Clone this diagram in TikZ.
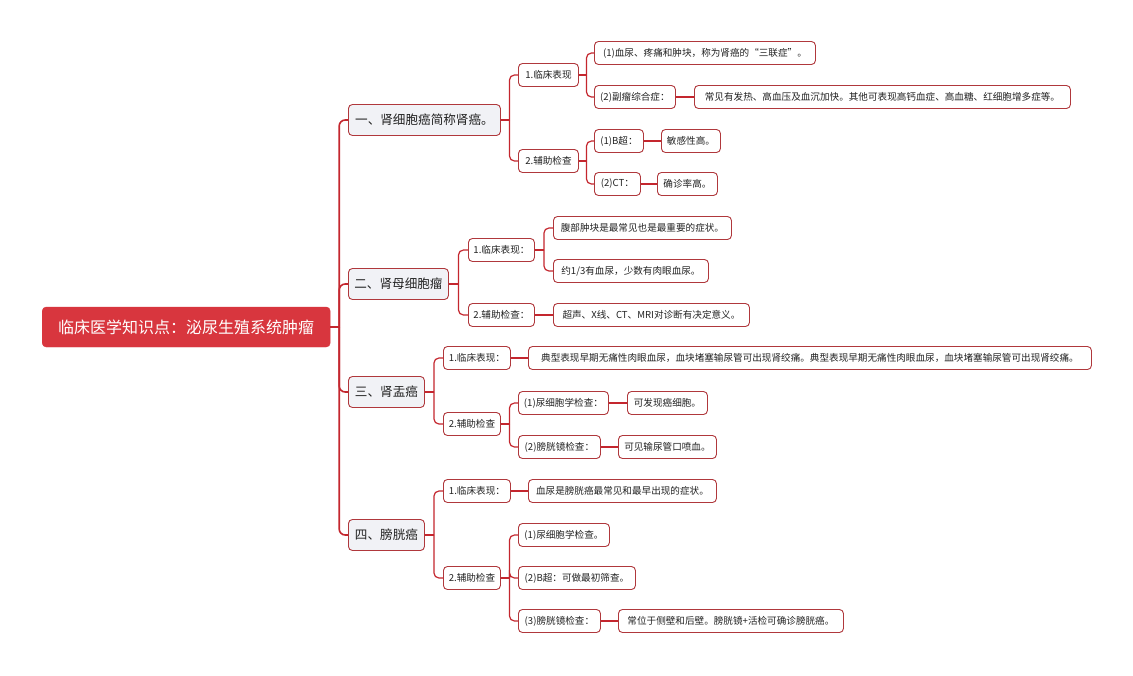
\documentclass[tikz,border=0pt]{standalone}
\usepackage{fontspec}
\setmainfont{Noto Sans CJK SC}
\usetikzlibrary{calc}
\definecolor{rootfill}{HTML}{D8363E}
\definecolor{edge}{HTML}{B0383C}
\definecolor{wire}{HTML}{C4262E}
\definecolor{lonefill}{HTML}{F1F2F6}
\definecolor{txt}{HTML}{222222}
\newcommand\NN[6]{\node[#1, minimum width=#4pt, anchor=west] (#2) at (#3,#5) {#6};}
\newcommand\BR[2]{%
  \coordinate (j) at ($(#1.east)!0.5!(#1.east -| #2.west)$);
  \draw[conn] (#1.east) -- (j);
  \draw[conn, rounded corners=5pt] (j) |- (#2.west);}
\newcommand\LF[2]{\draw[conn] (#1.east) -- (#2.west);}
\begin{document}
\begin{tikzpicture}[x=1pt,y=-1pt,
  rootbox/.style={draw=rootfill, fill=rootfill, rounded corners=4pt, text=white, minimum height=40pt, inner xsep=6pt, font=\fontsize{16}{18}\selectfont},
  lonebox/.style={draw=edge, fill=lonefill, line width=0.9pt, rounded corners=4pt, text=txt, minimum height=31pt, inner xsep=5pt, font=\fontsize{12.6}{15}\selectfont},
  smallbox/.style={draw=edge, fill=white, line width=0.9pt, rounded corners=4pt, text=txt, minimum height=23pt, inner xsep=5pt, font=\fontsize{9.6}{11}\selectfont},
  conn/.style={draw=wire, line width=1.2pt},
  trunk/.style={draw=wire, line width=1.6pt}]
\useasboundingbox (0,0) rectangle (1133,675);
\fill[white] (0,0) rectangle (1133,675);

\NN{rootbox}{root}{42}{288}{327}{临床医学知识点：泌尿生殖系统肿瘤}

\NN{lonebox}{A}{348}{152}{120}{一、肾细胞癌简称肾癌。}
\NN{lonebox}{B}{348}{100}{284}{二、肾母细胞瘤}
\NN{lonebox}{C}{348}{76}{392}{三、肾盂癌}
\NN{lonebox}{D}{348}{76}{535}{四、膀胱癌}

\NN{smallbox}{A1}{518}{60}{75}{1.临床表现}
\NN{smallbox}{A2}{518}{60}{161}{2.辅助检查}
\NN{smallbox}{A11}{594}{221}{53}{(1)血尿、疼痛和肿块，称为肾癌的“三联症”。}
\NN{smallbox}{A12}{594}{81}{97}{(2)副瘤综合症：}
\NN{smallbox}{A12x}{694}{376}{97}{常见有发热、高血压及血沉加快。其他可表现高钙血症、高血糖、红细胞增多症等。}
\NN{smallbox}{A21}{594}{49}{141}{(1)B超：}
\NN{smallbox}{A21x}{661}{59}{141}{敏感性高。}
\NN{smallbox}{A22}{594}{46}{184}{(2)CT：}
\NN{smallbox}{A22x}{657}{60}{184}{确诊率高。}

\NN{smallbox}{B1}{468}{66}{250}{1.临床表现：}
\NN{smallbox}{B2}{468}{66}{315}{2.辅助检查：}
\NN{smallbox}{B11}{553}{178}{228}{腹部肿块是最常见也是最重要的症状。}
\NN{smallbox}{B12}{553}{155}{271}{约1/3有血尿，少数有肉眼血尿。}
\NN{smallbox}{B21}{553}{196}{315}{超声、X线、CT、MRI对诊断有决定意义。}

\NN{smallbox}{C1}{443}{67}{358}{1.临床表现：}
\NN{smallbox}{C1x}{528}{563}{358}{典型表现早期无痛性肉眼血尿，血块堵塞输尿管可出现肾绞痛。典型表现早期无痛性肉眼血尿，血块堵塞输尿管可出现肾绞痛。}
\NN{smallbox}{C2}{443}{57}{424}{2.辅助检查}
\NN{smallbox}{C21}{518}{90}{403}{(1)尿细胞学检查：}
\NN{smallbox}{C21x}{627}{80}{403}{可发现癌细胞。}
\NN{smallbox}{C22}{518}{82}{447}{(2)膀胱镜检查：}
\NN{smallbox}{C22x}{618}{98}{447}{可见输尿管口喷血。}

\NN{smallbox}{D1}{443}{67}{491}{1.临床表现：}
\NN{smallbox}{D1x}{528}{188}{491}{血尿是膀胱癌最常见和最早出现的症状。}
\NN{smallbox}{D2}{443}{57}{578}{2.辅助检查}
\NN{smallbox}{D21}{518}{91}{535}{(1)尿细胞学检查。}
\NN{smallbox}{D22}{518}{117}{578}{(2)B超：可做最初筛查。}
\NN{smallbox}{D23}{518}{82}{621}{(3)膀胱镜检查：}
\NN{smallbox}{D23x}{618}{225}{621}{常位于侧壁和后壁。膀胱镜+活检可确诊膀胱癌。}

% trunk
\coordinate (tj) at ($(root.east)!0.5!(root.east -| A.west)$);
\draw[trunk] (root.east) -- (tj);
\foreach \c in {A,B,C,D} {\draw[trunk, rounded corners=6pt] (tj) |- (\c.west);}

% branches
\BR{A}{A1}\BR{A}{A2}
\BR{A1}{A11}\BR{A1}{A12}\LF{A12}{A12x}
\BR{A2}{A21}\BR{A2}{A22}\LF{A21}{A21x}\LF{A22}{A22x}

\BR{B}{B1}\BR{B}{B2}
\BR{B1}{B11}\BR{B1}{B12}\LF{B2}{B21}

\BR{C}{C1}\BR{C}{C2}\LF{C1}{C1x}
\BR{C2}{C21}\BR{C2}{C22}\LF{C21}{C21x}\LF{C22}{C22x}

\BR{D}{D1}\BR{D}{D2}\LF{D1}{D1x}
\BR{D2}{D21}\BR{D2}{D22}\BR{D2}{D23}\LF{D23}{D23x}
\end{tikzpicture}
\end{document}
